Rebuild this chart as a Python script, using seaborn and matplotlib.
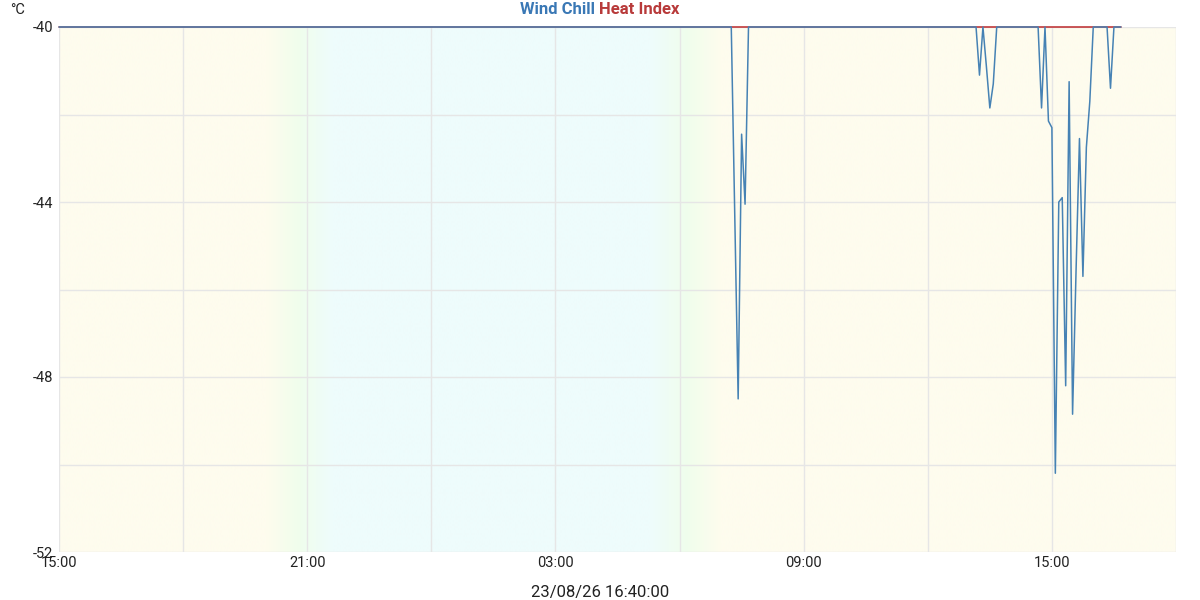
import numpy as np
import pandas as pd
import matplotlib
matplotlib.use("Agg")
import matplotlib.pyplot as plt
import matplotlib.dates as mdates
from matplotlib.colors import to_rgb
import seaborn as sns

# ---------------- data ----------------
DAY0 = "2026-08-22"
DAY1 = "2026-08-23"
wc_times = [
    f"{DAY0} 15:00", f"{DAY1} 07:15", f"{DAY1} 07:25", f"{DAY1} 07:30", f"{DAY1} 07:35", f"{DAY1} 07:40",
    f"{DAY1} 13:10", f"{DAY1} 13:15", f"{DAY1} 13:20", f"{DAY1} 13:25", f"{DAY1} 13:30", f"{DAY1} 13:35",
    f"{DAY1} 13:40",
    f"{DAY1} 14:40", f"{DAY1} 14:45", f"{DAY1} 14:50", f"{DAY1} 14:55", f"{DAY1} 15:00", f"{DAY1} 15:05",
    f"{DAY1} 15:10", f"{DAY1} 15:15", f"{DAY1} 15:20", f"{DAY1} 15:25", f"{DAY1} 15:30", f"{DAY1} 15:35",
    f"{DAY1} 15:40", f"{DAY1} 15:45", f"{DAY1} 15:50", f"{DAY1} 15:55", f"{DAY1} 16:00",
    f"{DAY1} 16:20", f"{DAY1} 16:25", f"{DAY1} 16:30", f"{DAY1} 16:40",
]
wc_values = [
    -40, -40, -48.5, -42.45, -44.05, -40,
    -40, -41.1, -40, -40.9, -41.85, -41.3,
    -40,
    -40, -41.85, -40, -42.15, -42.3, -50.2,
    -44.0, -43.9, -48.2, -41.25, -48.85, -45.6,
    -42.55, -45.7, -42.75, -41.7, -40,
    -40, -41.4, -40, -40,
]
hi_times = [f"{DAY0} 15:00", f"{DAY1} 16:40"]
hi_values = [-40, -40]

x_start = f"{DAY0} 15:00"
x_end = f"{DAY1} 18:00"
y_min, y_max = -52, -40
title_date = "23/08/26 16:40:00"

wc = pd.DataFrame({"time": pd.to_datetime(wc_times), "value": wc_values})
hi = pd.DataFrame({"time": pd.to_datetime(hi_times), "value": hi_values})

# ---------------- style ----------------
sns.set_theme(style="white")
plt.rcParams["font.family"] = ["Roboto", "DejaVu Sans"]
plt.rcParams["axes.unicode_minus"] = False

fig = plt.figure(figsize=(12, 6), dpi=100)
ax = fig.add_axes([59 / 1200, 1 - 552 / 600, (1176 - 59) / 1200, (552 - 27) / 600])

xs = mdates.date2num(pd.Timestamp(x_start))
xe = mdates.date2num(pd.Timestamp(x_end))

# day / night background gradient (hours from start, colour)
yellow, green, cyan = "#FEFCEE", "#F0FEEC", "#EEFCFC"
stops = [(0, yellow), (5.0, yellow), (5.8, green), (6.6, cyan),
         (14.3, cyan), (15.2, green), (16.0, yellow), (27.0, yellow)]
n = 1200
hh = np.linspace(0, 27, n)
sh = [s[0] for s in stops]
cols = np.array([to_rgb(s[1]) for s in stops])
img = np.stack([np.interp(hh, sh, cols[:, k]) for k in range(3)], axis=-1)[None, :, :]
ax.imshow(img, extent=[xs, xe, y_min, y_max], aspect="auto", zorder=0, interpolation="bilinear")

sns.lineplot(data=hi, x="time", y="value", ax=ax, color="#C0393B", linewidth=1.2, clip_on=False, zorder=3)
sns.lineplot(data=wc, x="time", y="value", ax=ax, color="#4682B4", linewidth=1.1, clip_on=False, zorder=4)

ax.set_xlim(xs, xe)
ax.set_ylim(y_min, y_max)
ax.set_aspect("auto")

ax.xaxis.set_major_locator(mdates.HourLocator(byhour=[3, 9, 15, 21]))
ax.xaxis.set_minor_locator(mdates.HourLocator(byhour=[0, 6, 12, 18]))
ax.xaxis.set_major_formatter(mdates.DateFormatter("%H:%M"))
ax.set_yticks([-52, -48, -44, -40])
ax.set_yticks([-50, -46, -42], minor=True)

ax.set_axisbelow(True)
ax.grid(True, which="both", color="#E6E6E6", linewidth=1.0)
for s in ax.spines.values():
    s.set_visible(False)
ax.tick_params(axis="both", which="both", length=0)
ax.tick_params(axis="y", labelsize=10.5, pad=4, colors="#222222")
ax.tick_params(axis="x", labelsize=10.5, pad=3, colors="#222222")
ax.set_xlabel("")
ax.set_ylabel("")

fig.text(595 / 1200, 1 - 10 / 600, "Wind Chill", ha="right", va="center",
         fontsize=12, fontweight="bold", color="#3A78B5")
fig.text(599 / 1200, 1 - 10 / 600, "Heat Index", ha="left", va="center",
         fontsize=12, fontweight="bold", color="#B83A3A")
fig.text(10 / 1200, 1 - 10 / 600, "°C", ha="left", va="center", fontsize=10.5, color="#222222")
fig.text(0.5, 1 - 593 / 600, title_date, ha="center", va="center", fontsize=12, color="#222222")

fig.savefig("out.png", dpi=100)
